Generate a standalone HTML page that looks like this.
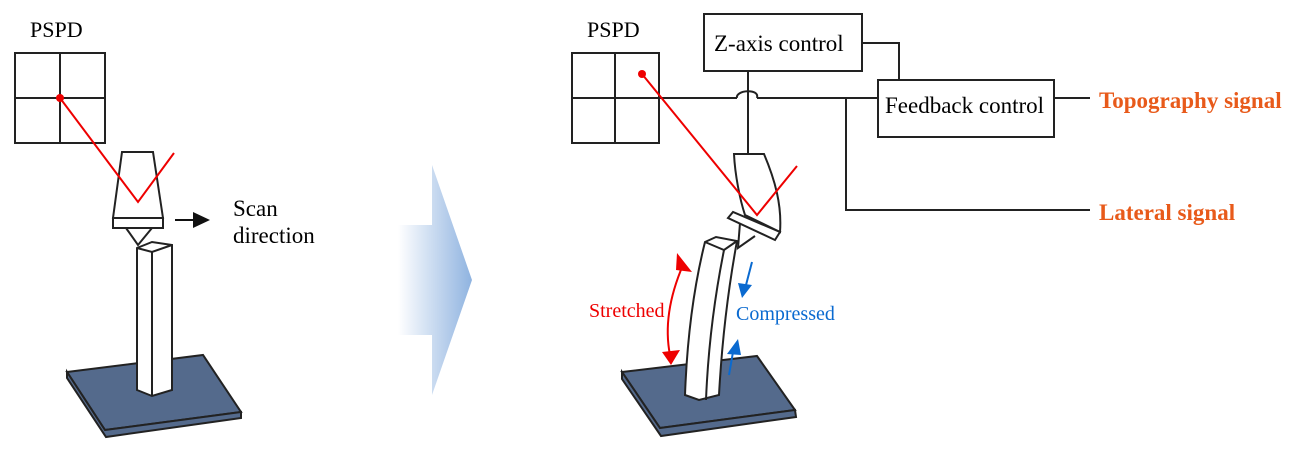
<!DOCTYPE html>
<html><head><meta charset="utf-8"><style>
body{margin:0;background:#fff;width:1298px;height:452px;overflow:hidden}
text{font-family:"Liberation Serif",serif}
</style></head><body>
<svg width="1298" height="452" viewBox="0 0 1298 452" xmlns="http://www.w3.org/2000/svg">
<defs>
<linearGradient id="g" x1="0" x2="1" y1="0" y2="0">
<stop offset="0" stop-color="#fff"/><stop offset="1" stop-color="#8fb3e0"/>
</linearGradient>
</defs>
<polygon points="398,225 432,225 432,165 472,280 432,395 432,335 398,335" fill="url(#g)"/>
<g stroke="#222" stroke-width="2" fill="none">
<rect x="15" y="53" width="90" height="90"/>
<line x1="60" y1="53" x2="60" y2="143"/><line x1="15" y1="98" x2="105" y2="98"/>
<polygon points="67,372 203,355 241,412 105,430" fill="#546a8c"/>
<polygon points="105,430 241,412 241,418 106,437 67,378 67,372" fill="#546a8c"/>
<polygon points="137,248 152,242 172,245 172,390 152,396 137,390" fill="#fff"/>
<polyline points="137,248 152,252 172,245"/>
<line x1="152" y1="252" x2="152" y2="396"/>
<polygon points="122,152 153,152 163,218 113,218" fill="#fff"/>
<rect x="113" y="218" width="50" height="10" fill="#fff"/>
<polyline points="126,228 138,245 152,228"/>
</g>
<polyline points="60,98 138,202 174,153" stroke="#e00" stroke-width="2" fill="none"/>
<circle cx="60" cy="98" r="4" fill="#e00"/>
<line x1="175" y1="220" x2="195" y2="220" stroke="#111" stroke-width="2"/>
<polygon points="193,212 210,220 193,228" fill="#111"/>
<text x="30" y="37" font-size="22">PSPD</text>
<text x="233" y="216" font-size="23">Scan</text>
<text x="233" y="243" font-size="23">direction</text>

<g stroke="#222" stroke-width="2" fill="none">
<rect x="572" y="53" width="87" height="90"/>
<line x1="615" y1="53" x2="615" y2="143"/><line x1="572" y1="98" x2="659" y2="98"/>
<rect x="704" y="14" width="158" height="57" fill="#fff"/>
<rect x="878" y="80" width="176" height="57" fill="#fff"/>
<line x1="659" y1="98" x2="737" y2="98"/>
<path d="M737,98 C735,90 760,88 757,98"/>
<line x1="757" y1="98" x2="878" y2="98"/>
<line x1="748" y1="71" x2="748" y2="155"/>
<polyline points="862,43 899,43 899,80"/>
<polyline points="846,98 846,210 1090,210"/>
<line x1="1054" y1="98" x2="1090" y2="98"/>
<polygon points="622,372 757,356 795,410 660,428" fill="#546a8c"/>
<polygon points="660,428 795,410 796,417 661,436 622,379 622,372" fill="#546a8c"/>
<path d="M705,242 L716,237 L737,241 C728,290 722,340 719,395 L699,400 L685,395 C687,340 693,290 705,242 Z" fill="#fff"/>
<path d="M705,242 L724,250 L737,241"/>
<path d="M724,250 C714,300 708,350 706,400"/>
<path d="M734,154 L764,154 C775,180 782,205 780,232 L745,215 C740,200 735,175 734,154 Z" fill="#fff"/>
<polygon points="728,218 733,212 780,232 775,240" fill="#fff"/>
<polyline points="740,223 738,248 755,236"/>
</g>
<polyline points="642,74 757,215 797,166" stroke="#e00" stroke-width="2" fill="none"/>
<circle cx="642" cy="74" r="4" fill="#e00"/>
<path d="M683,265 C668,300 665,330 670,355" stroke="#e00" stroke-width="2" fill="none"/>
<polygon points="677,253 692,272 676,270" fill="#e00"/>
<polygon points="662,352 680,350 671,365" fill="#e00"/>
<line x1="752" y1="262" x2="746" y2="285" stroke="#0a6ad0" stroke-width="2"/>
<polygon points="738,283 752,285 742,298" fill="#0a6ad0"/>
<line x1="729" y1="375" x2="733" y2="352" stroke="#0a6ad0" stroke-width="2"/>
<polygon points="727,354 741,355 738,339" fill="#0a6ad0"/>
<text x="587" y="37" font-size="22">PSPD</text>
<text x="714" y="51" font-size="23">Z-axis control</text>
<text x="885" y="113" font-size="23">Feedback control</text>
<text x="1099" y="108" font-size="23" font-weight="bold" fill="#e85a1a">Topography signal</text>
<text x="1099" y="220" font-size="23" font-weight="bold" fill="#e85a1a">Lateral signal</text>
<text x="589" y="317" font-size="20" fill="#e00">Stretched</text>
<text x="736" y="320" font-size="20" fill="#0a6ad0">Compressed</text>
</svg>
</body></html>
